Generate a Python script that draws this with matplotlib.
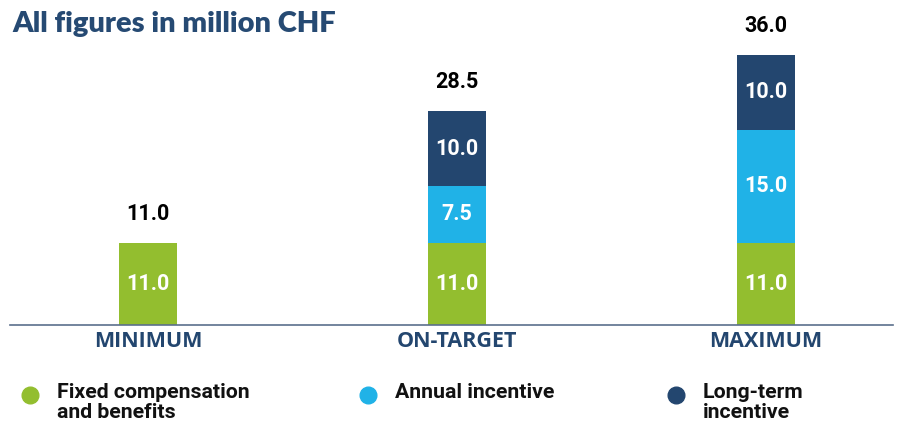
import numpy as np
import matplotlib
matplotlib.use('Agg')
import matplotlib.pyplot as plt
from matplotlib.lines import Line2D

categories = ['MINIMUM', 'ON-TARGET', 'MAXIMUM']
fixed = [11.0, 11.0, 11.0]
annual = [0.0, 7.5, 15.0]
longterm = [0.0, 10.0, 10.0]
series_names = ['Fixed compensation\nand benefits', 'Annual incentive', 'Long-term\nincentive']

green = '#93be2f'
blue = '#20b2e7'
navy = '#23466f'

W, H = 897, 428
fig = plt.figure(figsize=(W / 100, H / 100), dpi=100)
ax_bottom = 325  # px from top
ax_top = 0
ax = fig.add_axes([10 / W, (H - ax_bottom) / H, (893 - 10) / W, (ax_bottom - ax_top) / H])

x = np.arange(len(categories))
width = 58 / 309
totals = np.array(fixed) + np.array(annual) + np.array(longterm)

ax.bar(x, fixed, width, color=green, zorder=2)
ax.bar(x, annual, width, bottom=fixed, color=blue, zorder=2)
ax.bar(x, longterm, width, bottom=np.array(fixed) + np.array(annual), color=navy, zorder=2)

lbl_font = dict(family='Roboto', weight='bold', fontsize=15.5)
for i in range(len(categories)):
    base = 0
    for vals in (fixed, annual, longterm):
        v = vals[i]
        if v > 0:
            ax.text(x[i], base + v / 2, f'{v:.1f}', ha='center', va='center',
                    color='white', **lbl_font)
        base += v
    ax.text(x[i], totals[i] + 2.4, f'{totals[i]:.1f}', ha='center', va='bottom',
            color='black', **lbl_font)

ax.set_xlim(-(148 - 10) / 309, 2 + (893 - 766) / 309)
ax.set_ylim(0, 325 / 7.5)
for s in ['top', 'right', 'left']:
    ax.spines[s].set_visible(False)
ax.spines['bottom'].set_color('#5b6f8c')
ax.spines['bottom'].set_linewidth(1.2)
ax.spines['bottom'].set_zorder(3)
ax.set_yticks([])
ax.set_xticks(x)
ax.set_xticklabels(categories, family='Open Sans', weight='bold', fontsize=15.5, color=navy)
ax.tick_params(axis='x', length=0, pad=4)

fig.text(12 / W, 1 - 24 / H, 'All figures in million CHF', ha='left', va='center',
         family='Lato', weight='heavy', fontsize=21, color='#264a73')

leg_x = [30, 368, 676]
leg_colors = [green, blue, navy]
for lx, c, name in zip(leg_x, leg_colors, series_names):
    fig.add_artist(Line2D([lx / W], [1 - 395 / H], marker='o', markersize=12,
                          color=c, linestyle='none', transform=fig.transFigure))
    fig.text((lx + 27) / W, 1 - 383 / H, name, ha='left', va='top',
             family='Roboto', weight='bold', fontsize=15.3, color='#111111',
             linespacing=1.05)

fig.savefig('out.png', dpi=100)
